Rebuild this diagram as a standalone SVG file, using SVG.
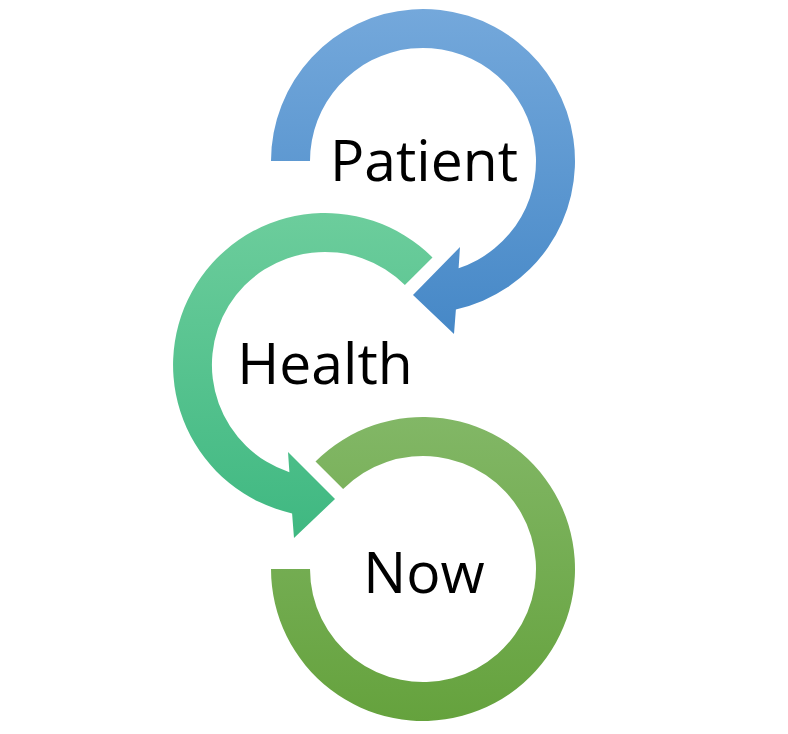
<svg xmlns="http://www.w3.org/2000/svg" width="788" height="734" viewBox="0 0 788 734">
  <style>
    .lbl { font-family: "Open Sans", "Noto Sans", "Liberation Sans", sans-serif; font-size: 57px; fill: #000000; text-anchor: middle; }
  </style>
  <defs>
    <linearGradient id="gBlue" x1="0" y1="0" x2="0" y2="1">
      <stop offset="0" stop-color="#74a8db"/>
      <stop offset="1" stop-color="#4688c7"/>
    </linearGradient>
    <linearGradient id="gTeal" x1="0" y1="0" x2="0" y2="1">
      <stop offset="0" stop-color="#6ccd9c"/>
      <stop offset="1" stop-color="#3fb881"/>
    </linearGradient>
    <linearGradient id="gGreen" x1="0" y1="0" x2="0" y2="1">
      <stop offset="0" stop-color="#82b766"/>
      <stop offset="1" stop-color="#65a23d"/>
    </linearGradient>
  </defs>
  <rect width="788" height="734" fill="#ffffff"/>
  <g id="connectors"></g>
  <g id="node-patient">
    <path fill="url(#gBlue)" d="M 271,161 A152,152 0 1 1 455.9,309.4 L 454,334 L 413,295 L 460,247 L 458.6,268.2 A113,113 0 1 0 310,161 Z"/>
    <text class="lbl" x="424" y="181">Patient</text>
  </g>
  <g id="node-health">
    <path fill="url(#gTeal)" d="M 432.5,257.5 A152,152 0 1 0 292.1,513.4 L 294,538 L 335,499 L 288,452 L 289.4,472.2 A113,113 0 1 1 404.9,285.1 Z"/>
    <text class="lbl" x="325" y="384">Health</text>
  </g>
  <g id="node-now">
    <path fill="url(#gGreen)" d="M 315.5,461.5 A152,152 0 1 1 271,569 L 310,569 A113,113 0 1 0 343.1,489.1 Z"/>
    <text class="lbl" x="424" y="593">Now</text>
  </g>
</svg>
